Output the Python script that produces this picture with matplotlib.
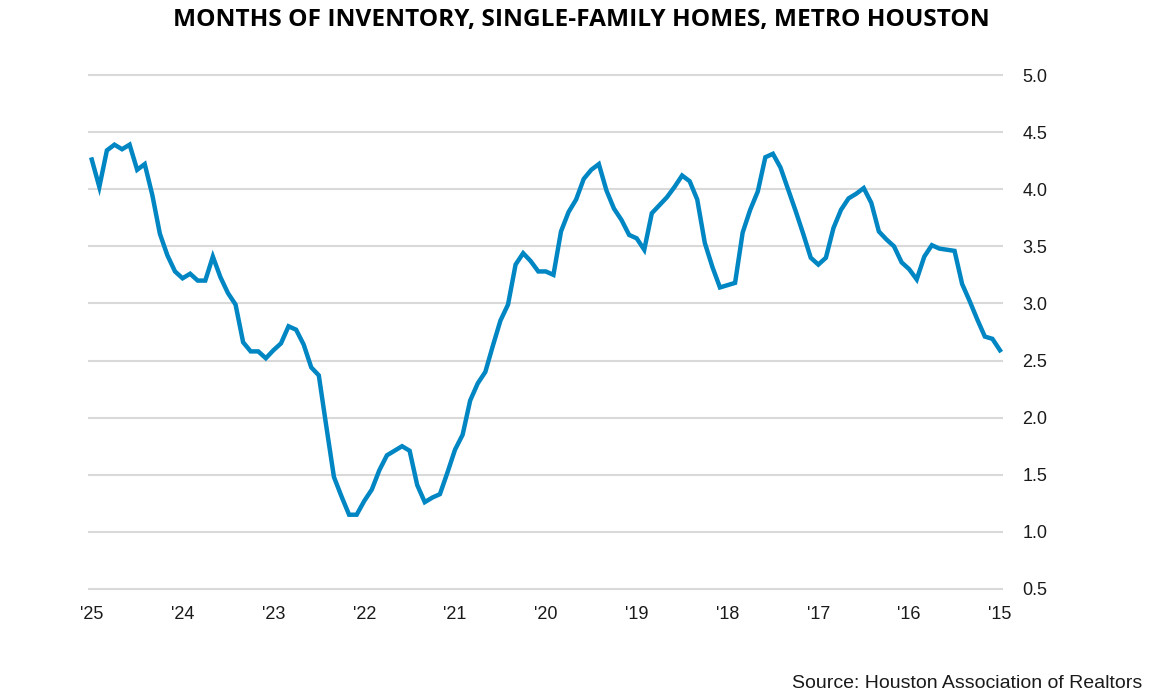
import matplotlib.pyplot as plt

# Months of inventory, monthly from Jan 2015 (index 0) to Jan 2025 (index 120)
months_of_inventory = [
    2.59, 2.69, 2.71, 2.86, 3.02, 3.17, 3.46, 3.47, 3.48, 3.51, 3.41, 3.21,  # 2015
    3.30, 3.36, 3.50, 3.56, 3.63, 3.88, 4.01, 3.96, 3.92, 3.82, 3.66, 3.40,  # 2016
    3.34, 3.40, 3.61, 3.81, 4.00, 4.19, 4.31, 4.28, 3.98, 3.82, 3.62, 3.18,  # 2017
    3.16, 3.14, 3.32, 3.53, 3.91, 4.07, 4.12, 4.02, 3.93, 3.86, 3.79, 3.47,  # 2018
    3.57, 3.60, 3.73, 3.83, 3.99, 4.22, 4.17, 4.09, 3.91, 3.80, 3.63, 3.25,  # 2019
    3.28, 3.28, 3.37, 3.44, 3.34, 2.99, 2.85, 2.63, 2.40, 2.30, 2.15, 1.85,  # 2020
    1.72, 1.52, 1.33, 1.30, 1.26, 1.41, 1.71, 1.75, 1.71, 1.67, 1.54, 1.37,  # 2021
    1.27, 1.15, 1.15, 1.31, 1.48, 1.92, 2.37, 2.44, 2.64, 2.77, 2.80, 2.65,  # 2022
    2.59, 2.52, 2.58, 2.58, 2.66, 2.99, 3.09, 3.23, 3.41, 3.20, 3.20, 3.26,  # 2023
    3.22, 3.28, 3.42, 3.61, 3.95, 4.22, 4.17, 4.39, 4.35, 4.39, 4.34, 4.02,  # 2024
    4.26,                                                                    # 2025
]
year_labels = ["'15", "'16", "'17", "'18", "'19", "'20", "'21", "'22", "'23", "'24", "'25"]
y_ticks = [0.5, 1.0, 1.5, 2.0, 2.5, 3.0, 3.5, 4.0, 4.5, 5.0]

plt.rcParams['font.family'] = ['Liberation Sans', 'DejaVu Sans']

fig = plt.figure(figsize=(11.53, 6.97), dpi=100)
ax = fig.add_axes([0.0763, 0.1478, 0.7936, 0.7518])

months = list(range(len(months_of_inventory)))
ax.plot(months, months_of_inventory, color='#0086c3', linewidth=3.2,
        solid_joinstyle='miter', zorder=3)

# time runs right to left, values on the right side
ax.set_xlim(120.5, -0.4)
ax.set_ylim(0.456, 5.044)

ax.set_xticks(range(0, 121, 12))
ax.set_xticklabels(year_labels)
ax.set_yticks(y_ticks)
ax.set_yticklabels([f'{v:.1f}' for v in y_ticks])
ax.yaxis.tick_right()

ax.tick_params(axis='x', length=0, pad=9, labelsize=13, colors='#1a1a1a')
ax.tick_params(axis='y', length=0, pad=14, labelsize=13, colors='#1a1a1a')

ax.grid(axis='y', color='#d9d9d9', linewidth=1.5)
ax.set_axisbelow(True)
for s in ax.spines.values():
    s.set_visible(False)

fig.text(0.5043, 0.9706, 'MONTHS OF INVENTORY, SINGLE-FAMILY HOMES, METRO HOUSTON',
         ha='center', va='center', fontsize=17.6, fontweight='bold',
         family=['Open Sans', 'DejaVu Sans'])
fig.text(0.991, 0.019, 'Source: Houston Association of Realtors',
         ha='right', va='center', fontsize=14, color='#1a1a1a')

fig.savefig('out.png', dpi=100)
